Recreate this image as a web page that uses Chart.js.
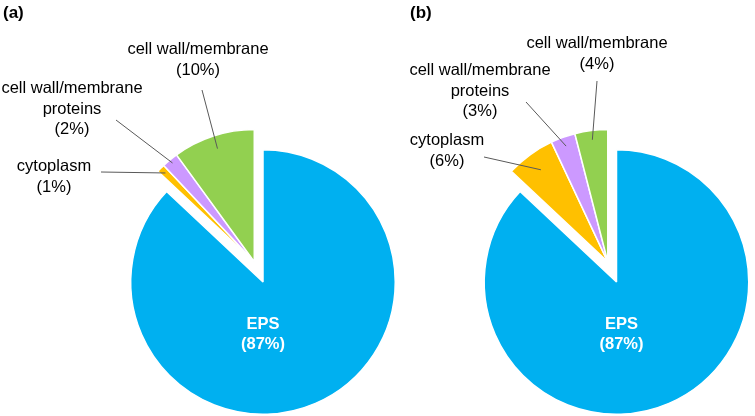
<!DOCTYPE html>
<html>
<head>
<meta charset="utf-8">
<script src="https://cdn.jsdelivr.net/npm/chart.js@4.4.1/dist/chart.umd.min.js"></script>
<style>
  body { margin: 0; background: #fff; }
  #wrap { position: relative; width: 755px; height: 416px; overflow: hidden; }
  canvas { position: absolute; top: 0; }
</style>
</head>
<body>
<div id="wrap">
  <canvas id="pieA" width="400" height="416" style="left:0px"></canvas>
  <canvas id="pieB" width="400" height="416" style="left:355px"></canvas>
</div>
<script>
// data
const categories = ['EPS', 'cytoplasm', ['cell wall/membrane', 'proteins'], 'cell wall/membrane'];
const valuesA = [87, 1, 2, 10];
const valuesB = [87, 6, 3, 4];
const sliceColors = ['#00B0F0', '#FFC000', '#CC99FF', '#92D050'];

const FONT = '"Liberation Sans", Arial, sans-serif';
const EXPLODE = 22; // px, small slices pulled out together

// layout of labels (page coordinates): x = text centre, y = first baseline,
// line = leader start, r = leader end as fraction of radius
const layoutA = {
    left: 0, tag: '(a)', tagX: 3, epsDx: 0,
    labels: [
        null,
        { x: 54, y: 171, line: [101, 172], r: 0.95 },
        { x: 72, y: 93, line: [116, 120], r: 0.97 },
        { x: 198, y: 54, line: [202, 90], r: 0.9 }
    ]
};
const layoutB = {
    left: 355, tag: '(b)', tagX: 410, epsDx: 5,
    labels: [
        null,
        { x: 447, y: 145, line: [484, 157], r: 0.86 },
        { x: 480, y: 75, line: [526, 102], r: 0.93 },
        { x: 597, y: 48, line: [597, 81], r: 0.93 }
    ]
};

function groupShift(arcs) {
    const mid = (arcs[1].startAngle + arcs[arcs.length - 1].endAngle) / 2;
    return { x: Math.cos(mid) * EXPLODE, y: Math.sin(mid) * EXPLODE, };
}

// shift the small slices as one block away from EPS
const explodePlugin = {
    id: 'explodeGroup',
    beforeDatasetsDraw(chart) {
        const arcs = chart.getDatasetMeta(0).data;
        arcs.forEach((arc, i) => {
            if (i === 0 || arc.__grouped) return;
            const baseDraw = Object.getPrototypeOf(arc).draw;
            arc.draw = function (ctx) {
                const s = groupShift(arcs);
                ctx.save();
                ctx.translate(s.x, s.y);
                baseDraw.call(this, ctx);
                ctx.restore();
            };
            arc.__grouped = true;
        });
    }
};

const labelPlugin = {
    id: 'pieLabels',
    afterDatasetsDraw(chart, args, opts) {
        const ctx = chart.ctx;
        const lay = opts.layout;
        const arcs = chart.getDatasetMeta(0).data;
        const values = chart.data.datasets[0].data;
        const s = groupShift(arcs);
        const ox = -lay.left;

        ctx.save();
        // panel tag
        ctx.fillStyle = '#000';
        ctx.font = 'bold 17px ' + FONT;
        ctx.textAlign = 'left';
        ctx.textBaseline = 'alphabetic';
        ctx.fillText(lay.tag, lay.tagX + ox, 18);

        // EPS inside label
        const eps = arcs[0];
        ctx.fillStyle = '#fff';
        ctx.font = 'bold 16.5px ' + FONT;
        ctx.textAlign = 'center';
        ctx.fillText(chart.data.labels[0], eps.x + lay.epsDx, eps.y + 47);
        ctx.fillText('(' + values[0] + '%)', eps.x + lay.epsDx, eps.y + 67);

        // outside labels with leader lines
        ctx.font = '16.5px ' + FONT;
        for (let i = 1; i < arcs.length; i++) {
            const L = lay.labels[i];
            const arc = arcs[i];
            const mid = (arc.startAngle + arc.endAngle) / 2;
            const rr = arc.outerRadius * L.r;
            const ex = arc.x + s.x + Math.cos(mid) * rr;
            const ey = arc.y + s.y + Math.sin(mid) * rr;
            ctx.strokeStyle = '#595959';
            ctx.lineWidth = 1;
            ctx.beginPath();
            ctx.moveTo(L.line[0] + ox, L.line[1]);
            ctx.lineTo(ex, ey);
            ctx.stroke();

            const name = chart.data.labels[i];
            const lines = (Array.isArray(name) ? name.slice() : [name]);
            lines.push('(' + values[i] + '%)');
            ctx.fillStyle = '#000';
            lines.forEach((t, k) => ctx.fillText(t, L.x + ox, L.y + k * 20.5));
        }
        ctx.restore();
    }
};

function makePie(id, values, layout, padding) {
    const ctx = document.getElementById(id).getContext('2d');
    return new Chart(ctx, {
        type: 'pie',
        data: {
            labels: categories,
            datasets: [{
                data: values,
                backgroundColor: sliceColors,
                borderColor: '#fff',
                borderWidth: 1.5,
                clip: false
            }]
        },
        options: {
            responsive: false,
            animation: false,
            events: [],
            layout: { padding: padding },
            plugins: {
                legend: { display: false },
                tooltip: { enabled: false },
                pieLabels: { layout: layout }
            }
        },
        plugins: [explodePlugin, labelPlugin]
    });
}

makePie('pieA', valuesA, layoutA, { left: 130, top: 149, right: 4, bottom: 1 });
makePie('pieB', valuesB, layoutB, { left: 128.5, top: 149, right: 5.5, bottom: 1 });
</script>
</body>
</html>
